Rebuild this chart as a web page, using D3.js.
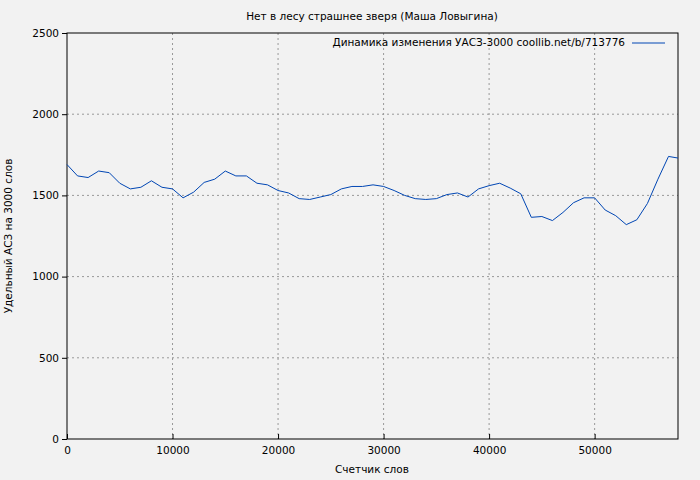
<!DOCTYPE html>
<html>
<head>
<script src="https://d3js.org/d3.v7.min.js"></script>
<style>body{margin:0;background:#f2f2f2;} text{font-family:"DejaVu Sans",sans-serif;font-size:10.5px;}</style>
</head>
<body>
<svg id="chart" width="700" height="480"></svg>
<script>
  var words = [0,1000,2000,3000,4000,5000,6000,7000,8000,9000,10000,11000,12000,13000,14000,15000,16000,17000,18000,19000,20000,21000,22000,23000,24000,25000,26000,27000,28000,29000,30000,31000,32000,33000,34000,35000,36000,37000,38000,39000,40000,41000,42000,43000,44000,45000,46000,47000,48000,49000,50000,51000,52000,53000,54000,55000,56000,57000,57900];
  var uacz = [1690,1620,1610,1650,1640,1575,1540,1550,1590,1550,1540,1485,1520,1580,1600,1650,1620,1620,1575,1565,1530,1515,1480,1475,1490,1505,1540,1555,1555,1565,1555,1530,1500,1480,1475,1480,1505,1515,1490,1540,1560,1575,1545,1510,1365,1370,1345,1395,1455,1485,1485,1410,1375,1320,1350,1450,1600,1740,1730];
  var xTicks = [0,10000,20000,30000,40000,50000];
  var yTicks = [0,500,1000,1500,2000,2500];

  var svg = d3.select("#chart");
  svg.append("rect").attr("width",700).attr("height",480).attr("fill","#f2f2f2");
  var pLeft = 67, pRight = 678, pTop = 33, pBottom = 439;
  var x = d3.scaleLinear().domain([0,57900]).range([pLeft,pRight]);
  var y = d3.scaleLinear().domain([0,2500]).range([pBottom,pTop]);

  // grid
  svg.append("g").selectAll("line").data(xTicks.slice(1)).join("line")
    .attr("x1",d=>x(d)).attr("x2",d=>x(d)).attr("y1",pTop).attr("y2",pBottom)
    .attr("stroke","#999").attr("stroke-dasharray","2,3");
  svg.append("g").selectAll("line").data(yTicks.slice(1,-1)).join("line")
    .attr("x1",pLeft).attr("x2",pRight).attr("y1",d=>y(d)).attr("y2",d=>y(d))
    .attr("stroke","#999").attr("stroke-dasharray","2,3");

  svg.append("g").attr("transform","translate(0,"+pBottom+")")
    .call(d3.axisBottom(x).tickValues(xTicks).tickFormat(d3.format("d")).tickSize(-5).tickPadding(8))
    .call(g=>g.select(".domain").remove());
  svg.append("g").attr("transform","translate("+pLeft+",0)")
    .call(d3.axisLeft(y).tickValues(yTicks).tickFormat(d3.format("d")).tickSize(5).tickPadding(3))
    .call(g=>g.select(".domain").remove());
  svg.selectAll(".tick text").style("font-family","DejaVu Sans").style("font-size","10.5px").attr("fill","#000");

  svg.append("rect").attr("x",pLeft).attr("y",pTop).attr("width",pRight-pLeft).attr("height",pBottom-pTop)
    .attr("fill","none").attr("stroke","#000");

  svg.append("path").datum(d3.zip(words,uacz))
    .attr("fill","none").attr("stroke","#0046b4").attr("stroke-width",1)
    .attr("d",d3.line().x(d=>x(d[0])).y(d=>y(d[1])));

  svg.append("text").attr("x",372).attr("y",20).attr("text-anchor","middle").text("Нет в лесу страшнее зверя (Маша Ловыгина)");
  svg.append("text").attr("x",372).attr("y",473).attr("text-anchor","middle").text("Счетчик слов");
  svg.append("text").attr("transform","translate(12,236) rotate(-90)").attr("text-anchor","middle").text("Удельный АСЗ на 3000 слов");
  svg.append("text").attr("x",625).attr("y",46).attr("text-anchor","end").text("Динамика изменения УАСЗ-3000 coollib.net/b/713776");
  svg.append("line").attr("x1",632).attr("x2",665).attr("y1",43).attr("y2",43).attr("stroke","#0046b4");
</script>
</body>
</html>
